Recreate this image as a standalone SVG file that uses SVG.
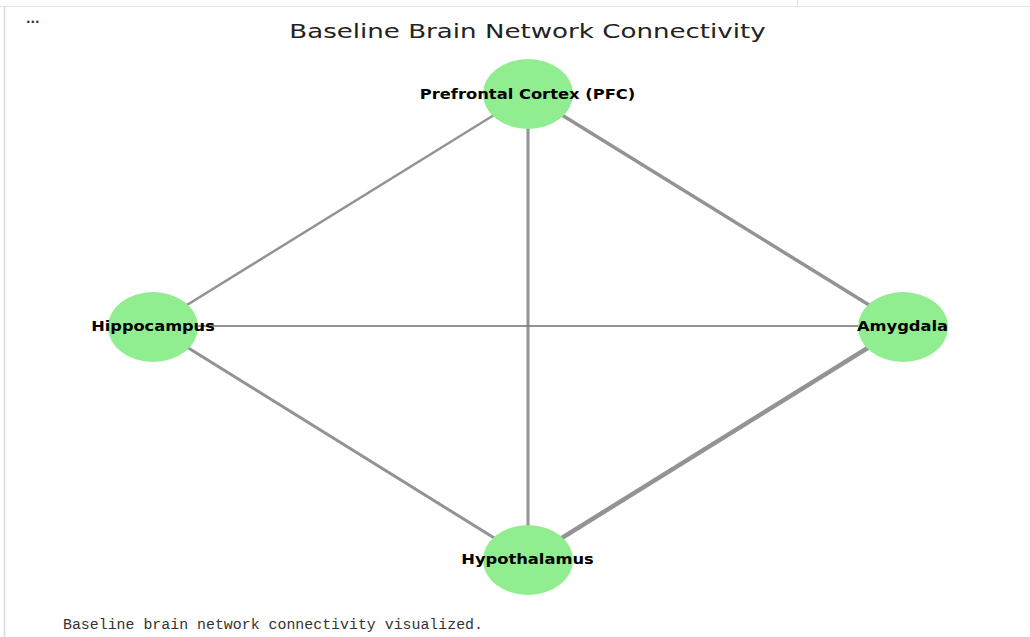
<svg xmlns="http://www.w3.org/2000/svg" width="1030" height="637" viewBox="0 0 1030 637">
<style>
.node{fill:#90ee90}
.lbl{font-family:"DejaVu Sans",sans-serif;font-weight:bold;font-size:13.5px;fill:#000;text-anchor:middle;dominant-baseline:central}
.edge{stroke:#808080;stroke-opacity:0.85;fill:none}
</style>
<rect width="1030" height="637" fill="#fff"/>
<line x1="0" y1="6.5" x2="1030" y2="6.5" stroke="#e6e6e6" stroke-width="1"/>
<line x1="4.5" y1="6" x2="4.5" y2="637" stroke="#d9d9d9" stroke-width="1.5"/>
<line x1="797.5" y1="0" x2="797.5" y2="6" stroke="#e0e0e0" stroke-width="1"/>
<text x="26" y="23" font-family="DejaVu Sans,sans-serif" font-weight="bold" font-size="12" fill="#333">...</text>
<text transform="translate(527.5,37.5) scale(1.305,1)" x="0" y="0" font-family="DejaVu Sans,sans-serif" font-size="20" fill="#222" text-anchor="middle">Baseline Brain Network Connectivity</text>
<g id="connectors">
<line class="edge" x1="528" y1="94" x2="153" y2="326" stroke-width="2.5"/>
<line class="edge" x1="528" y1="94" x2="528" y2="559" stroke-width="3"/>
<line class="edge" x1="528" y1="94" x2="903" y2="326" stroke-width="3.5"/>
<line class="edge" x1="153" y1="326" x2="903" y2="326" stroke-width="2"/>
<line class="edge" x1="153" y1="326" x2="528" y2="559" stroke-width="3"/>
<line class="edge" x1="528" y1="559" x2="903" y2="326" stroke-width="4.5"/>
</g>
<g id="pfc"><ellipse class="node" cx="528" cy="94" rx="45" ry="35"/><text class="lbl" transform="translate(527.5,94.5) scale(1.21,1)">Prefrontal Cortex (PFC)</text></g>
<g id="hippocampus"><ellipse class="node" cx="153" cy="327" rx="45" ry="35"/><text class="lbl" transform="translate(153,326.5) scale(1.2,1)">Hippocampus</text></g>
<g id="amygdala"><ellipse class="node" cx="903" cy="327" rx="45" ry="35"/><text class="lbl" transform="translate(902.5,326.5) scale(1.21,1)">Amygdala</text></g>
<g id="hypothalamus"><ellipse class="node" cx="528" cy="560" rx="45" ry="35"/><text class="lbl" transform="translate(527.5,559.5) scale(1.21,1)">Hypothalamus</text></g>
<text x="63" y="629" font-family="Liberation Mono,monospace" font-size="14.9" fill="#333">Baseline brain network connectivity visualized.</text>
</svg>
